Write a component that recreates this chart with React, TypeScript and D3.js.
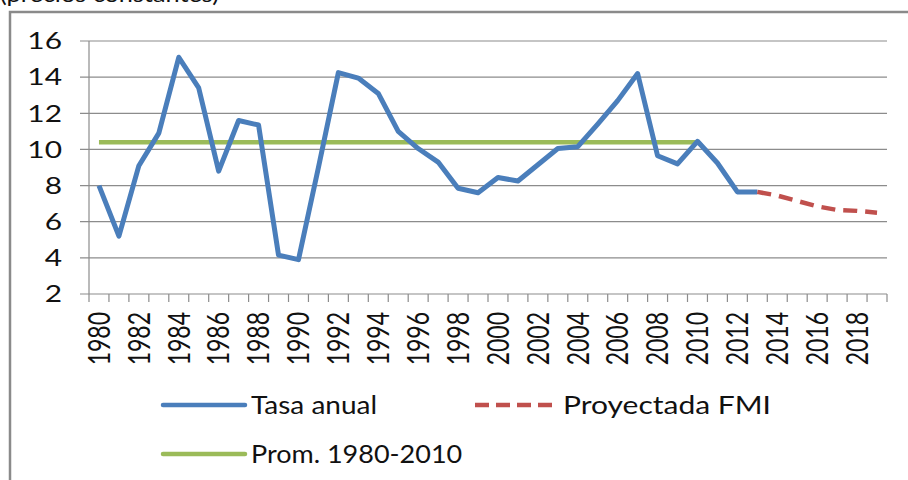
import * as React from "react";
import * as d3 from "d3";

const years = [
  1980, 1981, 1982, 1983, 1984, 1985, 1986, 1987, 1988, 1989,
  1990, 1991, 1992, 1993, 1994, 1995, 1996, 1997, 1998, 1999,
  2000, 2001, 2002, 2003, 2004, 2005, 2006, 2007, 2008, 2009,
  2010, 2011, 2012, 2013, 2014, 2015, 2016, 2017, 2018, 2019
];
const tasaYears = years.slice(0, 34); // 1980-2013
const tasaAnual = [
  8.0, 5.2, 9.1, 10.9, 15.1, 13.4, 8.8, 11.6, 11.35, 4.15,
  3.9, 9.0, 14.25, 13.95, 13.1, 11.0, 10.05, 9.3, 7.85, 7.6,
  8.45, 8.25, 9.15, 10.05, 10.15, 11.4, 12.7, 14.2, 9.65, 9.2,
  10.45, 9.25, 7.65, 7.65
];
const proyYears = [2013, 2014, 2015, 2016, 2017, 2018, 2019];
const proyectada = [7.65, 7.45, 7.15, 6.85, 6.65, 6.6, 6.5];
const promYears = [1980, 2010];
const promedio = [10.4, 10.4];
const yTicks = [2, 4, 6, 8, 10, 12, 14, 16];
const xLabelYears = years.filter(y => y % 2 === 0);

const W = 908;
const H = 480;
const FONT = "Lato, 'Open Sans', sans-serif";

const Chart: React.FunctionComponent = () => {
  const ref = React.useRef<SVGSVGElement>(null);

  React.useEffect(() => {
    const svg = d3.select(ref.current);
    svg.selectAll("*").remove();

    const x = d3
      .scaleBand<number>()
      .domain(years)
      .range([89, 887]);
    const y = d3
      .scaleLinear()
      .domain([2, 16])
      .range([294, 41]);
    const cx = (yr: number) => (x(yr) as number) + x.bandwidth() / 2;

    // outer frame (runs off the right / bottom edge)
    svg
      .append("rect")
      .attr("x", 10)
      .attr("y", 12)
      .attr("width", W + 20)
      .attr("height", H + 20)
      .attr("fill", "none")
      .attr("stroke", "#8a8a8a")
      .attr("stroke-width", 2.5);

    // title fragment, clipped at the top as in the source picture
    svg
      .append("text")
      .attr("transform", "translate(0,2) scale(1.15,1)")
      .attr("font-family", FONT)
      .attr("font-size", 22)
      .attr("fill", "#111")
      .text("(precios constantes)");

    // gridlines + y ticks
    svg
      .append("g")
      .selectAll("line")
      .data(yTicks)
      .enter()
      .append("line")
      .attr("x1", 80)
      .attr("x2", 887)
      .attr("y1", d => y(d))
      .attr("y2", d => y(d))
      .attr("stroke", "#8c8c8c")
      .attr("stroke-width", 1.2);

    // y axis line
    svg
      .append("line")
      .attr("x1", 89)
      .attr("x2", 89)
      .attr("y1", y(16))
      .attr("y2", y(2))
      .attr("stroke", "#8c8c8c")
      .attr("stroke-width", 1.2);

    // y labels
    svg
      .append("g")
      .selectAll("text")
      .data(yTicks)
      .enter()
      .append("text")
      .attr("transform", d => `translate(62,${y(d)}) scale(1.3,1)`)
      .attr("text-anchor", "end")
      .attr("dy", "0.36em")
      .attr("font-family", FONT)
      .attr("font-size", 23)
      .attr("fill", "#111")
      .text(d => d);

    // x ticks at band edges
    const edges = years.map(yr => x(yr) as number).concat([887]);
    svg
      .append("g")
      .selectAll("line")
      .data(edges)
      .enter()
      .append("line")
      .attr("x1", d => d)
      .attr("x2", d => d)
      .attr("y1", y(2))
      .attr("y2", y(2) + 8)
      .attr("stroke", "#8c8c8c")
      .attr("stroke-width", 1.2);

    // x labels
    svg
      .append("g")
      .selectAll("text")
      .data(xLabelYears)
      .enter()
      .append("text")
      .attr("transform", d => `translate(${cx(d)},312) scale(1.3,1) rotate(-90)`)
      .attr("text-anchor", "end")
      .attr("dy", "0.36em")
      .attr("font-family", FONT)
      .attr("font-size", 23)
      .attr("fill", "#111")
      .text(d => d);

    const line = d3
      .line<[number, number]>()
      .x(d => cx(d[0]))
      .y(d => y(d[1]));

    svg
      .append("path")
      .attr("d", line(promYears.map((yr, i) => [yr, promedio[i]] as [number, number])))
      .attr("fill", "none")
      .attr("stroke", "#9BBB59")
      .attr("stroke-width", 4.5);

    svg
      .append("path")
      .attr("d", line(tasaYears.map((yr, i) => [yr, tasaAnual[i]] as [number, number])))
      .attr("fill", "none")
      .attr("stroke", "#4A7EBB")
      .attr("stroke-width", 5)
      .attr("stroke-linejoin", "round");

    svg
      .append("path")
      .attr("d", line(proyYears.map((yr, i) => [yr, proyectada[i]] as [number, number])))
      .attr("fill", "none")
      .attr("stroke", "#C0504D")
      .attr("stroke-width", 4.5)
      .attr("stroke-dasharray", "14,8");

    // legend
    const legend = [
      { label: "Tasa anual", color: "#4A7EBB", dash: null, x: 163, y: 405, sx: 1.12 },
      { label: "Proyectada FMI", color: "#C0504D", dash: "14,7", x: 475, y: 405, sx: 1.2 },
      { label: "Prom. 1980-2010", color: "#9BBB59", dash: null, x: 163, y: 454, sx: 1.08 }
    ];
    const lg = svg
      .append("g")
      .selectAll("g")
      .data(legend)
      .enter()
      .append("g");
    lg.append("line")
      .attr("x1", d => d.x)
      .attr("x2", d => d.x + 82)
      .attr("y1", d => d.y)
      .attr("y2", d => d.y)
      .attr("stroke", d => d.color)
      .attr("stroke-width", 4.5)
      .attr("stroke-linecap", d => (d.dash ? "butt" : "round"))
      .attr("stroke-dasharray", d => d.dash);
    lg.append("text")
      .attr("transform", d => `translate(${d.x + 88},${d.y + 8.5}) scale(${d.sx},1)`)
      .attr("font-family", FONT)
      .attr("font-size", 25)
      .attr("fill", "#111")
      .text(d => d.label);
  }, []);

  return (
    <svg
      ref={ref}
      width={W}
      height={H}
      style={{ position: "absolute", left: 0, top: 0, background: "#fff" }}
    />
  );
};

export default function App() {
  return <Chart />;
}
